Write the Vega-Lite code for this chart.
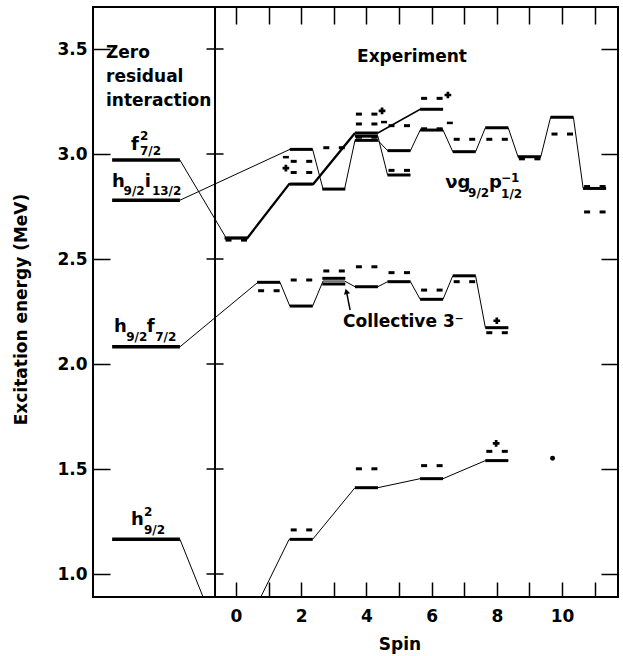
{
  "$schema": "https://vega.github.io/schema/vega-lite/v6.json",
  "width": 525,
  "height": 590,
  "autosize": {"type": "none"},
  "padding": {"left": 93, "top": 7, "right": 5, "bottom": 59},
  "background": "white",
  "config": {
    "view": {"stroke": "black", "strokeWidth": 2},
    "axis": {
      "labelFont": "DejaVu Sans", "labelFontWeight": "bold", "labelFontSize": 17, "labelColor": "black",
      "titleFont": "DejaVu Sans", "titleFontWeight": "bold", "titleFontSize": 17, "titleColor": "black",
      "tickColor": "black", "tickWidth": 1.5, "domain": false, "grid": false
    },
    "tick": {"opacity": 1},
    "point": {"opacity": 1}
  },
  "resolve": {"axis": {"x": "independent", "y": "independent"}},
  "datasets": {
    "ytk": [
      {"x": -0.644, "E": 1.0}, {"x": -0.644, "E": 1.5}, {"x": -0.644, "E": 2.0},
      {"x": -0.644, "E": 2.5}, {"x": -0.644, "E": 3.0}, {"x": -0.644, "E": 3.5}
    ],
    "sep": [{"x": -0.644}],
    "cfg": [
      {"a": -3.80, "b": -1.72, "E": 2.971},
      {"a": -3.80, "b": -1.72, "E": 2.78},
      {"a": -3.80, "b": -1.72, "E": 2.082},
      {"a": -3.80, "b": -1.72, "E": 1.165}
    ],
    "poly": [
      {"g": "A0", "s": -1.72, "E": 1.165}, {"g": "A0", "s": -1.01, "E": 0.8905},
      {"g": "A", "s": 0.76, "E": 0.8905}, {"g": "A", "s": 1.63, "E": 1.165}, {"g": "A", "s": 2.35, "E": 1.165},
      {"g": "A", "s": 3.65, "E": 1.411}, {"g": "A", "s": 4.35, "E": 1.411}, {"g": "A", "s": 5.65, "E": 1.454},
      {"g": "A", "s": 6.35, "E": 1.454}, {"g": "A", "s": 7.65, "E": 1.54}, {"g": "A", "s": 8.35, "E": 1.54},
      {"g": "B", "s": -1.72, "E": 2.082}, {"g": "B", "s": 0.67, "E": 2.389}, {"g": "B", "s": 1.35, "E": 2.389},
      {"g": "B", "s": 1.65, "E": 2.276}, {"g": "B", "s": 2.35, "E": 2.276}, {"g": "B", "s": 2.67, "E": 2.395},
      {"g": "B", "s": 3.33, "E": 2.395}, {"g": "B", "s": 3.65, "E": 2.368}, {"g": "B", "s": 4.35, "E": 2.368},
      {"g": "B", "s": 4.65, "E": 2.392}, {"g": "B", "s": 5.35, "E": 2.392}, {"g": "B", "s": 5.65, "E": 2.308},
      {"g": "B", "s": 6.35, "E": 2.308}, {"g": "B", "s": 6.65, "E": 2.42}, {"g": "B", "s": 7.35, "E": 2.42},
      {"g": "B", "s": 7.65, "E": 2.173}, {"g": "B", "s": 8.35, "E": 2.173},
      {"g": "C", "s": -1.72, "E": 2.78}, {"g": "C", "s": 1.65, "E": 3.022}, {"g": "C", "s": 2.35, "E": 3.022},
      {"g": "C", "s": 2.67, "E": 2.833}, {"g": "C", "s": 3.33, "E": 2.833}, {"g": "C", "s": 3.65, "E": 3.065},
      {"g": "C", "s": 4.35, "E": 3.065}, {"g": "C", "s": 4.65, "E": 3.016}, {"g": "C", "s": 5.35, "E": 3.016},
      {"g": "C", "s": 5.65, "E": 3.114}, {"g": "C", "s": 6.35, "E": 3.114}, {"g": "C", "s": 6.65, "E": 3.011},
      {"g": "C", "s": 7.35, "E": 3.011}, {"g": "C", "s": 7.65, "E": 3.125}, {"g": "C", "s": 8.35, "E": 3.125},
      {"g": "C", "s": 8.65, "E": 2.987}, {"g": "C", "s": 9.35, "E": 2.987}, {"g": "C", "s": 9.65, "E": 3.175},
      {"g": "C", "s": 10.35, "E": 3.175}, {"g": "C", "s": 10.65, "E": 2.836}, {"g": "C", "s": 11.35, "E": 2.836},
      {"g": "F0", "s": -1.72, "E": 2.971}, {"g": "F0", "s": -0.3, "E": 2.60},
      {"g": "D", "s": -0.3, "E": 2.60}, {"g": "D", "s": 0.35, "E": 2.60}, {"g": "D", "s": 1.63, "E": 2.857},
      {"g": "D", "s": 2.37, "E": 2.857}, {"g": "D", "s": 3.65, "E": 3.10},
      {"g": "D2", "s": 4.35, "E": 3.10}, {"g": "D2", "s": 5.65, "E": 3.213}, {"g": "D2", "s": 6.35, "E": 3.213},
      {"g": "N", "s": 4.35, "E": 3.085}, {"g": "N", "s": 4.65, "E": 2.90}, {"g": "N", "s": 5.15, "E": 2.90}
    ],
    "bars": [
      {"s": 0, "E": 2.60},
      {"s": 2, "E": 1.165}, {"s": 4, "E": 1.411}, {"s": 6, "E": 1.454}, {"s": 8, "E": 1.54},
      {"s": 1, "E": 2.389}, {"s": 2, "E": 2.276}, {"s": 3, "E": 2.408}, {"s": 3, "E": 2.381},
      {"s": 4, "E": 2.368}, {"s": 5, "E": 2.392}, {"s": 6, "E": 2.308}, {"s": 7, "E": 2.42}, {"s": 8, "E": 2.173},
      {"s": 2, "E": 3.022}, {"s": 3, "E": 2.833}, {"s": 4, "E": 3.065}, {"s": 5, "E": 3.016}, {"s": 6, "E": 3.114},
      {"s": 7, "E": 3.011}, {"s": 8, "E": 3.125}, {"s": 9, "E": 2.987}, {"s": 10, "E": 3.175}, {"s": 11, "E": 2.836},
      {"s": 2, "E": 2.857}, {"s": 4, "E": 3.10}, {"s": 6, "E": 3.213},
      {"s": 4, "E": 3.085}, {"s": 5, "E": 2.90}
    ],
    "dash": [
      {"s": 0, "E": 2.59},
      {"s": 2, "E": 1.21}, {"s": 4, "E": 1.501}, {"s": 6, "E": 1.516}, {"s": 8, "E": 1.584},
      {"s": 1, "E": 2.349}, {"s": 2, "E": 2.40}, {"s": 3, "E": 2.443}, {"s": 4, "E": 2.463},
      {"s": 5, "E": 2.435}, {"s": 6, "E": 2.352}, {"s": 7, "E": 2.392}, {"s": 8, "E": 2.149},
      {"s": 2, "E": 2.965}, {"s": 2, "E": 2.912}, {"s": 3, "E": 3.03}, {"s": 4, "E": 3.19}, {"s": 4, "E": 3.143},
      {"s": 4, "E": 3.08}, {"s": 5, "E": 3.135}, {"s": 5, "E": 2.922}, {"s": 6, "E": 3.265}, {"s": 6, "E": 3.12},
      {"s": 7, "E": 3.07}, {"s": 8, "E": 3.07}, {"s": 9, "E": 2.977}, {"s": 10, "E": 3.095},
      {"s": 11, "E": 2.845}, {"s": 11, "E": 2.724}
    ],
    "plus": [
      {"s": 1.53, "E": 2.933}, {"s": 4.48, "E": 3.205}, {"s": 6.5, "E": 3.281},
      {"s": 7.98, "E": 1.622}, {"s": 8.0, "E": 2.206}
    ],
    "minus": [
      {"s": 1.53, "E": 2.985}, {"s": 4.54, "E": 3.152}, {"s": 6.56, "E": 3.148}
    ],
    "dot": [{"s": 9.71, "E": 1.551}],
    "arrow": [{"s": 3.50, "E": 2.257, "s2": 3.395, "E2": 2.34}],
    "head": [{"s": 3.385, "E": 2.346}],
    "lab": [
      {"t": "f", "s": -3.221, "E": 3.019, "r": "m"},
      {"t": "2", "s": -2.945, "E": 3.066, "r": "s"},
      {"t": "7/2", "s": -2.945, "E": 2.997, "r": "s"},
      {"t": "h", "s": -3.804, "E": 2.843, "r": "m"},
      {"t": "9/2", "s": -3.45, "E": 2.805, "r": "s"},
      {"t": "i", "s": -2.80, "E": 2.843, "r": "m"},
      {"t": "13/2", "s": -2.58, "E": 2.805, "r": "s"},
      {"t": "h", "s": -3.742, "E": 2.152, "r": "m"},
      {"t": "9/2", "s": -3.37, "E": 2.110, "r": "s"},
      {"t": "f", "s": -2.74, "E": 2.152, "r": "m"},
      {"t": "7/2", "s": -2.48, "E": 2.110, "r": "s"},
      {"t": "h", "s": -3.221, "E": 1.233, "r": "m"},
      {"t": "2", "s": -2.822, "E": 1.275, "r": "s"},
      {"t": "9/2", "s": -2.822, "E": 1.192, "r": "s"},
      {"t": "νg", "s": 6.42, "E": 2.838, "r": "m"},
      {"t": "9/2", "s": 7.12, "E": 2.795, "r": "s"},
      {"t": "p", "s": 7.76, "E": 2.838, "r": "m"},
      {"t": "−1", "s": 8.13, "E": 2.866, "r": "s"},
      {"t": "1/2", "s": 8.13, "E": 2.792, "r": "s"},
      {"t": "Zero\nresidual\ninteraction", "s": -3.988, "E": 3.457, "r": "w"},
      {"t": "Experiment", "s": 3.712, "E": 3.438, "r": "w"},
      {"t": "Collective 3⁻", "s": 3.282, "E": 2.176, "r": "w"}
    ]
  },
  "layer": [
    {
      "data": {"name": "ytk"},
      "mark": {"type": "tick", "orient": "horizontal", "size": 17, "thickness": 1.5, "color": "black"},
      "encoding": {
        "x": {"field": "x", "type": "quantitative", "scale": {"domain": [-4.387, 11.718], "nice": false, "zero": false},
          "axis": {"orient": "bottom", "values": [0, 1, 2, 3, 4, 5, 6, 7, 8, 9, 10, 11],
            "labelExpr": "datum.value % 2 === 0 ? datum.label : ''", "tickSize": -15, "labelPadding": 26,
            "title": "Spin", "titlePadding": 12, "titleX": 306.5}},
        "y": {"field": "E", "type": "quantitative", "scale": {"domain": [0.8905, 3.7], "nice": false, "zero": false},
          "axis": {"orient": "left", "values": [1, 1.5, 2, 2.5, 3, 3.5], "format": ".1f", "tickSize": -17,
            "labelPadding": 23, "title": "Excitation energy (MeV)", "titlePadding": 26, "titleY": 302}}
      }
    },
    {
      "data": {"name": "poly"},
      "mark": {"type": "line", "color": "black"},
      "encoding": {
        "x": {"field": "s", "type": "quantitative", "scale": {"domain": [-4.387, 11.718], "nice": false, "zero": false},
          "axis": {"orient": "top", "values": [0, 1, 2, 3, 4, 5, 6, 7, 8, 9, 10, 11], "labels": false, "tickSize": -17, "title": null}},
        "y": {"field": "E", "type": "quantitative", "scale": {"domain": [0.8905, 3.7], "nice": false, "zero": false},
          "axis": {"orient": "right", "values": [1, 1.5, 2, 2.5, 3, 3.5], "labels": false, "tickSize": -17, "title": null}},
        "detail": {"field": "g", "type": "nominal"},
        "strokeWidth": {"field": "g", "type": "nominal", "legend": null,
          "scale": {"type": "ordinal", "domain": ["A0", "A", "B", "C", "F0", "D", "D2", "N"], "range": [1, 1, 1, 1, 1, 2.3, 1.5, 1]}}
      }
    },
    {
      "data": {"name": "sep"},
      "mark": {"type": "rule", "color": "black", "strokeWidth": 2},
      "encoding": {
        "x": {"field": "x", "type": "quantitative", "scale": {"domain": [-4.387, 11.718], "nice": false, "zero": false}, "axis": null}
      }
    },
    {
      "data": {"name": "cfg"},
      "mark": {"type": "rule", "color": "black", "strokeWidth": 3.5},
      "encoding": {
        "x": {"field": "a", "type": "quantitative", "scale": {"domain": [-4.387, 11.718], "nice": false, "zero": false}, "axis": null},
        "x2": {"field": "b"},
        "y": {"field": "E", "type": "quantitative", "scale": {"domain": [0.8905, 3.7], "nice": false, "zero": false}, "axis": null}
      }
    },
    {
      "data": {"name": "bars"},
      "mark": {"type": "tick", "orient": "horizontal", "size": 23, "thickness": 3, "color": "black", "opacity": 1},
      "encoding": {
        "x": {"field": "s", "type": "quantitative", "scale": {"domain": [-4.387, 11.718], "nice": false, "zero": false}, "axis": null},
        "y": {"field": "E", "type": "quantitative", "scale": {"domain": [0.8905, 3.7], "nice": false, "zero": false}, "axis": null}
      }
    },
    {
      "data": {"name": "dash"},
      "mark": {"type": "tick", "orient": "horizontal", "size": 6, "thickness": 3, "color": "black", "opacity": 1, "xOffset": -7.5},
      "encoding": {
        "x": {"field": "s", "type": "quantitative", "scale": {"domain": [-4.387, 11.718], "nice": false, "zero": false}, "axis": null},
        "y": {"field": "E", "type": "quantitative", "scale": {"domain": [0.8905, 3.7], "nice": false, "zero": false}, "axis": null}
      }
    },
    {
      "data": {"name": "dash"},
      "mark": {"type": "tick", "orient": "horizontal", "size": 6, "thickness": 3, "color": "black", "opacity": 1, "xOffset": 8},
      "encoding": {
        "x": {"field": "s", "type": "quantitative", "scale": {"domain": [-4.387, 11.718], "nice": false, "zero": false}, "axis": null},
        "y": {"field": "E", "type": "quantitative", "scale": {"domain": [0.8905, 3.7], "nice": false, "zero": false}, "axis": null}
      }
    },
    {
      "data": {"name": "minus"},
      "mark": {"type": "tick", "orient": "horizontal", "size": 6, "thickness": 2.5, "color": "black", "opacity": 1},
      "encoding": {
        "x": {"field": "s", "type": "quantitative", "scale": {"domain": [-4.387, 11.718], "nice": false, "zero": false}, "axis": null},
        "y": {"field": "E", "type": "quantitative", "scale": {"domain": [0.8905, 3.7], "nice": false, "zero": false}, "axis": null}
      }
    },
    {
      "data": {"name": "plus"},
      "mark": {"type": "point", "shape": "cross", "filled": true, "size": 45, "color": "black", "opacity": 1},
      "encoding": {
        "x": {"field": "s", "type": "quantitative", "scale": {"domain": [-4.387, 11.718], "nice": false, "zero": false}, "axis": null},
        "y": {"field": "E", "type": "quantitative", "scale": {"domain": [0.8905, 3.7], "nice": false, "zero": false}, "axis": null}
      }
    },
    {
      "data": {"name": "dot"},
      "mark": {"type": "point", "shape": "circle", "filled": true, "size": 24, "color": "black", "opacity": 1},
      "encoding": {
        "x": {"field": "s", "type": "quantitative", "scale": {"domain": [-4.387, 11.718], "nice": false, "zero": false}, "axis": null},
        "y": {"field": "E", "type": "quantitative", "scale": {"domain": [0.8905, 3.7], "nice": false, "zero": false}, "axis": null}
      }
    },
    {
      "data": {"name": "arrow"},
      "mark": {"type": "rule", "color": "black", "strokeWidth": 1.5},
      "encoding": {
        "x": {"field": "s", "type": "quantitative", "scale": {"domain": [-4.387, 11.718], "nice": false, "zero": false}, "axis": null},
        "y": {"field": "E", "type": "quantitative", "scale": {"domain": [0.8905, 3.7], "nice": false, "zero": false}, "axis": null},
        "x2": {"field": "s2"},
        "y2": {"field": "E2"}
      }
    },
    {
      "data": {"name": "head"},
      "mark": {"type": "point", "shape": "triangle-up", "filled": true, "size": 40, "angle": -15, "color": "black", "opacity": 1},
      "encoding": {
        "x": {"field": "s", "type": "quantitative", "scale": {"domain": [-4.387, 11.718], "nice": false, "zero": false}, "axis": null},
        "y": {"field": "E", "type": "quantitative", "scale": {"domain": [0.8905, 3.7], "nice": false, "zero": false}, "axis": null}
      }
    },
    {
      "data": {"name": "lab"},
      "transform": [{"filter": "datum.r === 'm'"}],
      "mark": {"type": "text", "font": "DejaVu Sans", "fontWeight": "bold", "align": "left", "baseline": "alphabetic",
        "color": "black", "fontSize": 18},
      "encoding": {
        "x": {"field": "s", "type": "quantitative", "scale": {"domain": [-4.387, 11.718], "nice": false, "zero": false}, "axis": null},
        "y": {"field": "E", "type": "quantitative", "scale": {"domain": [0.8905, 3.7], "nice": false, "zero": false}, "axis": null},
        "text": {"field": "t", "type": "nominal"}
      }
    },
    {
      "data": {"name": "lab"},
      "transform": [{"filter": "datum.r === 's'"}],
      "mark": {"type": "text", "font": "DejaVu Sans", "fontWeight": "bold", "align": "left", "baseline": "alphabetic",
        "color": "black", "fontSize": 12},
      "encoding": {
        "x": {"field": "s", "type": "quantitative", "scale": {"domain": [-4.387, 11.718], "nice": false, "zero": false}, "axis": null},
        "y": {"field": "E", "type": "quantitative", "scale": {"domain": [0.8905, 3.7], "nice": false, "zero": false}, "axis": null},
        "text": {"field": "t", "type": "nominal"}
      }
    },
    {
      "data": {"name": "lab"},
      "transform": [{"filter": "datum.r === 'w'"}],
      "mark": {"type": "text", "font": "DejaVu Sans", "fontWeight": "bold", "align": "left", "baseline": "alphabetic",
        "color": "black", "fontSize": 17, "lineBreak": "\n", "lineHeight": 24},
      "encoding": {
        "x": {"field": "s", "type": "quantitative", "scale": {"domain": [-4.387, 11.718], "nice": false, "zero": false}, "axis": null},
        "y": {"field": "E", "type": "quantitative", "scale": {"domain": [0.8905, 3.7], "nice": false, "zero": false}, "axis": null},
        "text": {"field": "t", "type": "nominal"}
      }
    }
  ]
}
